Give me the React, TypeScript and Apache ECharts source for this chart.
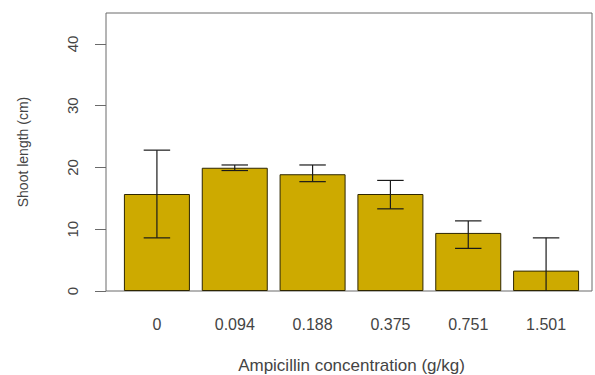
import React, { useEffect, useRef } from "react";
import * as echarts from "echarts";

const categories = ["0", "0.094", "0.188", "0.375", "0.751", "1.501"];
const means = [15.7, 19.95, 18.9, 15.7, 9.4, 3.3];
const upper = [22.8, 20.4, 20.4, 17.9, 11.35, 8.6];
const lower = [8.6, 19.5, 17.7, 13.3, 6.9, -2.0];
const yTicks = [0, 10, 20, 30, 40];

const FONT = "'Liberation Sans', Arial, Helvetica, sans-serif";

export default function App() {
  const ref = useRef<HTMLDivElement>(null);
  useEffect(() => {
    if (!ref.current) return;
    const chart = echarts.init(ref.current, null, { renderer: "svg" });
    const errData = categories.map((_, i) => [i, lower[i], upper[i]]);
    chart.setOption({
      animation: false,
      backgroundColor: "#ffffff",
      grid: [
        { left: 106, right: 3, top: 13, bottom: 84, show: true, borderColor: "#6a6a6a", borderWidth: 1, backgroundColor: "transparent", outerBoundsMode: "none", containLabel: false },
        { left: 118, right: 10, top: 13, bottom: 84, show: false, outerBoundsMode: "none", containLabel: false },
      ],
      xAxis: [
        { type: "value", gridIndex: 0, show: false, min: 0, max: 1 },
        {
          type: "category",
          gridIndex: 1,
          data: categories,
          axisLine: { show: false },
          axisTick: { show: false },
          axisLabel: { color: "#444444", fontSize: 16, fontFamily: FONT, margin: 25 },
          name: "Ampicillin concentration (g/kg)",
          nameLocation: "middle",
          nameGap: 66,
          nameTextStyle: { color: "#444444", fontSize: 17, fontFamily: FONT },
        },
      ],
      yAxis: [
        {
          type: "value",
          gridIndex: 0,
          min: 0,
          max: 45,
          interval: 10,
          splitLine: { show: false },
          axisLine: { show: false },
          axisTick: { show: true, length: 11, lineStyle: { color: "#6a6a6a" }, customValues: yTicks },
          axisLabel: { rotate: 90, margin: 26, color: "#444444", fontSize: 15, fontFamily: FONT, customValues: yTicks },
          name: "Shoot length (cm)",
          nameLocation: "middle",
          nameRotate: 90,
          nameGap: 76,
          nameTextStyle: { color: "#444444", fontSize: 14, fontFamily: FONT },
        },
        { type: "value", gridIndex: 1, min: 0, max: 45, show: false, splitLine: { show: false } },
      ],
      series: [
        {
          type: "bar",
          xAxisIndex: 1,
          yAxisIndex: 1,
          data: means,
          barWidth: 66,
          itemStyle: { color: "#CDAA00", borderColor: "#2e2600", borderWidth: 1 },
        },
        {
          type: "custom",
          xAxisIndex: 1,
          yAxisIndex: 1,
          clip: true,
          data: errData,
          renderItem: (params: any, api: any) => {
            const i = api.value(0);
            const lo = api.coord([i, api.value(1)]);
            const hi = api.coord([i, api.value(2)]);
            const half = api.size([1, 0])[0] * 0.17;
            const style = { stroke: "#1a1a1a", lineWidth: 1.2 };
            return {
              type: "group",
              children: [
                { type: "line", shape: { x1: hi[0], y1: hi[1], x2: lo[0], y2: lo[1] }, style },
                { type: "line", shape: { x1: hi[0] - half, y1: hi[1], x2: hi[0] + half, y2: hi[1] }, style },
                { type: "line", shape: { x1: lo[0] - half, y1: lo[1], x2: lo[0] + half, y2: lo[1] }, style },
              ],
            };
          },
          z: 5,
        },
      ],
    });
    return () => chart.dispose();
  }, []);
  return <div ref={ref} style={{ width: 595, height: 375, position: "absolute", left: 0, top: 0 }} />;
}
